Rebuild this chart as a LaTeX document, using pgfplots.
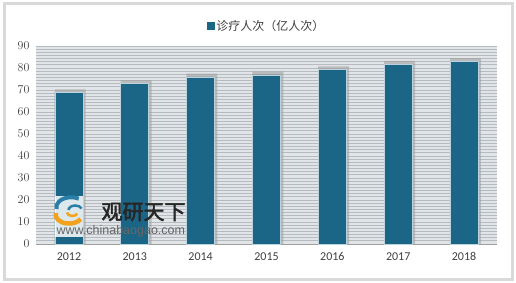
\documentclass[border=0pt]{standalone}
\usepackage{pgfplots}
\pgfplotsset{compat=1.18}
\usepackage{pgfplotstable}
\usepackage{fontspec}
\setmainfont{Carlito}
\newfontfamily\cjk{Noto Sans CJK SC}
\newfontfamily\cjkb[FakeBold=2.5]{Noto Sans CJK SC}
\newfontfamily\arial{Liberation Sans}
\definecolor{barblue}{HTML}{1B6586}
\definecolor{stripebg}{HTML}{E2E5E8}
\definecolor{stripeline}{HTML}{B6BBC1}
\definecolor{txt}{HTML}{404040}
\definecolor{logoblue}{HTML}{2A7FA8}
\definecolor{logoorange}{HTML}{F2A21C}
\pgfplotstableread{
x v
0 68.9
1 73.1
2 76.0
3 76.9
4 79.3
5 81.8
6 83.1
}\data
\begin{document}
\begin{tikzpicture}[x=1pt,y=1pt]
\fill[white] (0,0) rectangle (516,283);
\draw[gray!30, line width=3pt] (4,3.5) rectangle (512,279.5);
\begin{axis}[
  at={(36pt,39pt)}, anchor=south west,
  scale only axis, width=461pt, height=198pt,
  xmin=-0.5, xmax=6.5, ymin=0, ymax=90,
  ytick={0,10,...,90},
  xtick={0,...,6}, xticklabels={2012,2013,2014,2015,2016,2017,2018},
  axis x line*=bottom, axis y line*=left,
  axis line style={-},
  x axis line style={draw=gray!75, line width=0.9pt},
  y axis line style={draw=none},
  major tick length=0pt, minor tick length=0pt,
  tick style={draw=none},
  ymajorgrids, yminorgrids, minor y tick num=6,
  major grid style={stripeline, line width=0.8pt},
  minor grid style={stripeline, line width=0.8pt},
  axis background/.style={fill=stripebg},
  ticklabel style={font=\fontsize{12}{14}\selectfont, text=txt},
  yticklabel style={xshift=-3pt},
  xticklabel style={yshift=-5pt},
  legend style={at={(0.5,1)}, anchor=south, yshift=9pt, draw=none, fill=white,
    font=\fontsize{12}{14}\selectfont\cjk, text=txt, inner sep=3pt},
  legend image code/.code={\fill[barblue] (0pt,-3.5pt) rectangle (7pt,3.5pt);},
  clip=false,
]
\addplot[ybar, bar width=0.47, bar shift=0.02, fill=gray!75, draw=none, opacity=0.6, forget plot]
  table[x=x, y expr=\thisrow{v}+1.4] {\data};
\addplot[ybar, bar width=0.425, bar shift=0pt, fill=barblue, draw=white!70!barblue, line width=0.6pt]
  table[x=x, y=v] {\data};
\addlegendentry{诊疗人次（亿人次）}
\end{axis}
% watermark
\fill[white, opacity=0.85] (55,46) rectangle (83,87);
\begin{scope}[shift={(73,72)}, xscale=1.5]
  \draw[logoblue, line width=4pt] (-11,2) arc[start angle=190, end angle=60, radius=10];
  \draw[logoblue, line width=2.5pt] (-3,1) arc[start angle=180, end angle=20, radius=4.5];
  \draw[logoorange, line width=4.5pt] (-11.5,-2) arc[start angle=170, end angle=330, radius=9];
  \draw[logoorange, line width=2.5pt] (-4,-1.5) arc[start angle=180, end angle=340, radius=3.5];
\end{scope}
\node[text=black!85, font=\fontsize{21}{24}\cjkb, anchor=west] at (98,71) {观研天下};
\node[text=black!60, font=\fontsize{12.5}{14}\arial, anchor=west] at (53,52) {www.chinabaogao.com};
\end{tikzpicture}
\end{document}
